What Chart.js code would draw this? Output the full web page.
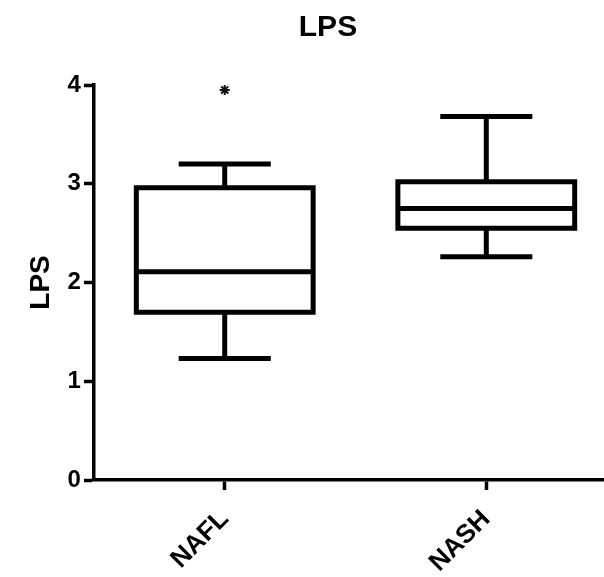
<!DOCTYPE html>
<html>
<head>
<meta charset="utf-8">
<script src="https://cdn.jsdelivr.net/npm/chart.js@4/dist/chart.umd.min.js"></script>
<style>
  html, body { margin: 0; padding: 0; background: #fff; }
  #wrap { width: 604px; height: 577px; }
</style>
</head>
<body>
<div id="wrap"><canvas id="c" width="604" height="577"></canvas></div>
<script>
// ---- data ----
const categories = ['NAFL', 'NASH'];
const whiskerMin = [1.23, 2.26];
const q1Values   = [1.70, 2.55];
const medians    = [2.11, 2.75];
const q3Values   = [2.96, 3.02];
const whiskerMax = [3.20, 3.68];
const outliers   = [[3.95], []];
const yTicks     = [0, 1, 2, 3, 4];
const chartTitle = 'LPS';
const yTitle     = 'LPS';

// ---- geometry / style ----
const BOX_HALF = 0.338;
const CAP_HALF = 0.176;
const LW = 5;
const FONT = '"Liberation Sans", Arial, sans-serif';

// build box-plot outline as a polyline with gaps
const boxPts = [];
const gap = (x) => boxPts.push({x: x, y: null});
categories.forEach((c, i) => {
  const l = i - BOX_HALF, r = i + BOX_HALF;
  boxPts.push({x: i, y: q1Values[i]}, {x: r, y: q1Values[i]}, {x: r, y: q3Values[i]},
              {x: l, y: q3Values[i]}, {x: l, y: q1Values[i]}, {x: i, y: q1Values[i]});
  gap(i);
  boxPts.push({x: l, y: medians[i]}, {x: r, y: medians[i]});
  gap(i);
  boxPts.push({x: i, y: q3Values[i]}, {x: i, y: whiskerMax[i]});
  gap(i);
  boxPts.push({x: i - CAP_HALF, y: whiskerMax[i]}, {x: i + CAP_HALF, y: whiskerMax[i]});
  gap(i);
  boxPts.push({x: i, y: q1Values[i]}, {x: i, y: whiskerMin[i]});
  gap(i);
  boxPts.push({x: i - CAP_HALF, y: whiskerMin[i]}, {x: i + CAP_HALF, y: whiskerMin[i]});
  gap(i);
});
const outPts = [];
outliers.forEach((arr, i) => arr.forEach(v => outPts.push({x: i, y: v})));

const titlePlugin = {
  id: 'customTitle',
  afterDraw(chart) {
    const ctx = chart.ctx;
    ctx.save();
    ctx.font = 'bold 30px ' + FONT;
    ctx.fillStyle = '#000';
    ctx.textAlign = 'center';
    ctx.textBaseline = 'middle';
    ctx.fillText(chartTitle, chart.width * 0.543, 28);
    ctx.restore();
  }
};

new Chart(document.getElementById('c'), {
  type: 'scatter',
  data: {
    datasets: [
      {
        data: boxPts,
        showLine: true,
        spanGaps: false,
        borderColor: '#000',
        borderWidth: LW,
        borderJoinStyle: 'miter',
        borderCapStyle: 'butt',
        pointRadius: 0,
        pointHoverRadius: 0,
        tension: 0
      },
      {
        data: outPts,
        showLine: false,
        pointStyle: 'star',
        pointRadius: 5,
        borderColor: '#111',
        backgroundColor: '#111',
        pointBorderWidth: 2
      }
    ]
  },
  options: {
    responsive: false,
    animation: false,
    events: [],
    layout: { autoPadding: false, padding: { top: 85, left: 24, right: 0, bottom: 0 } },
    plugins: { legend: { display: false }, tooltip: { enabled: false }, title: { display: false } },
    scales: {
      x: {
        type: 'linear',
        min: -0.5,
        max: 1.45,
        afterBuildTicks: (s) => { s.ticks = categories.map((c, i) => ({value: i})); },
        afterFit: (s) => { s.height = 97; s.paddingRight = 0; s.paddingLeft = 0; },
        ticks: {
          callback: (v) => categories[v],
          minRotation: 45,
          maxRotation: 45,
          padding: 14,
          color: '#000',
          font: { family: FONT, size: 26, weight: 'bold' }
        },
        grid: { display: true, drawOnChartArea: false, drawTicks: true, tickLength: 10, tickWidth: 3.5, tickColor: '#000' },
        border: { display: true, color: '#000', width: 3.5 }
      },
      y: {
        type: 'linear',
        min: 0,
        max: 4,
        afterBuildTicks: (s) => { s.ticks = yTicks.map(v => ({value: v})); },
        ticks: {
          padding: 3,
          color: '#000',
          font: { family: FONT, size: 24, weight: 'bold' }
        },
        title: {
          display: true,
          text: yTitle,
          color: '#000',
          padding: { top: 0, bottom: 7 },
          font: { family: FONT, size: 28, weight: 'bold' }
        },
        grid: { display: true, drawOnChartArea: false, drawTicks: true, tickLength: 10, tickWidth: 3.5, tickColor: '#000' },
        border: { display: true, color: '#000', width: 3.5 }
      }
    }
  },
  plugins: [titlePlugin]
});
</script>
</body>
</html>
